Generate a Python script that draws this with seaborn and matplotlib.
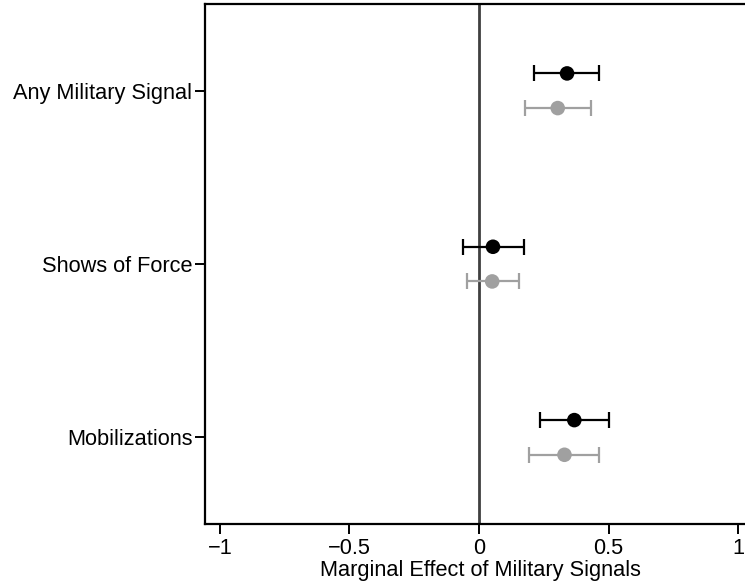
import numpy as np
import pandas as pd
import matplotlib
matplotlib.use("Agg")
import matplotlib.pyplot as plt
import seaborn as sns

# Marginal effects with 95% intervals
signals = ['Any Military Signal', 'Shows of Force', 'Mobilizations']
models = ['Model A', 'Model B']
estimate_a = [0.34, 0.054, 0.368]
lower_a = [0.214, -0.062, 0.237]
upper_a = [0.464, 0.172, 0.501]
estimate_b = [0.304, 0.051, 0.33]
lower_b = [0.177, -0.047, 0.195]
upper_b = [0.431, 0.153, 0.465]
x_ticks = [-1, -0.5, 0, 0.5, 1]
x_tick_labels = ['\u22121', '\u22120.5', '0', '0.5', '1']

sns.set_theme(style='white')
plt.rcParams['font.family'] = ['Liberation Sans', 'DejaVu Sans']
plt.rcParams['text.color'] = 'black'
plt.rcParams['axes.labelcolor'] = 'black'
plt.rcParams['xtick.color'] = 'black'
plt.rcParams['ytick.color'] = 'black'

df = pd.DataFrame({
    'signal': signals * 2,
    'model': [models[0]] * 3 + [models[1]] * 3,
    'estimate': estimate_a + estimate_b,
    'lower': lower_a + lower_b,
    'upper': upper_a + upper_b,
})
# vertical position: category index, model A slightly above, model B below
offsets = {models[0]: -0.1, models[1]: 0.1}
df['ypos'] = df['signal'].map({s: i + 1 for i, s in enumerate(signals)}) + df['model'].map(offsets)

colors = {models[0]: 'black', models[1]: '#a0a0a0'}

fig = plt.figure(figsize=(7.45, 5.83), dpi=100)
ax = fig.add_axes([0.275, 0.101, 0.74, 0.892])

ax.axvline(0, color='#404040', lw=2, zorder=1)

for m in models:
    sub = df[df['model'] == m]
    ax.errorbar(sub['estimate'], sub['ypos'],
                xerr=[sub['estimate'] - sub['lower'], sub['upper'] - sub['estimate']],
                fmt='none', ecolor=colors[m], elinewidth=1.6, capsize=6, capthick=1.6, zorder=2)

sns.scatterplot(data=df, x='estimate', y='ypos', hue='model', palette=colors,
                s=110, edgecolor='none', legend=False, ax=ax, zorder=3)

ax.set_xlim(-1.058, 1.07)
ax.set_ylim(3.5, 0.5)
ax.set_xticks(x_ticks)
ax.set_xticklabels(x_tick_labels, fontsize=15.7)
ax.set_yticks(range(1, len(signals) + 1))
ax.set_yticklabels(signals, fontsize=15.7)
ax.set_xlabel('Marginal Effect of Military Signals', fontsize=15.7, labelpad=1)
ax.set_ylabel('')
ax.tick_params(axis='both', which='major', direction='out', length=7, width=1.4,
               color='black', labelcolor='black', bottom=True, left=True)
ax.tick_params(axis='x', pad=3)
ax.tick_params(axis='y', pad=2)
for side in ['left', 'top', 'bottom', 'right']:
    ax.spines[side].set_color('black')
    ax.spines[side].set_linewidth(1.6)

fig.savefig('out.png', dpi=100)
